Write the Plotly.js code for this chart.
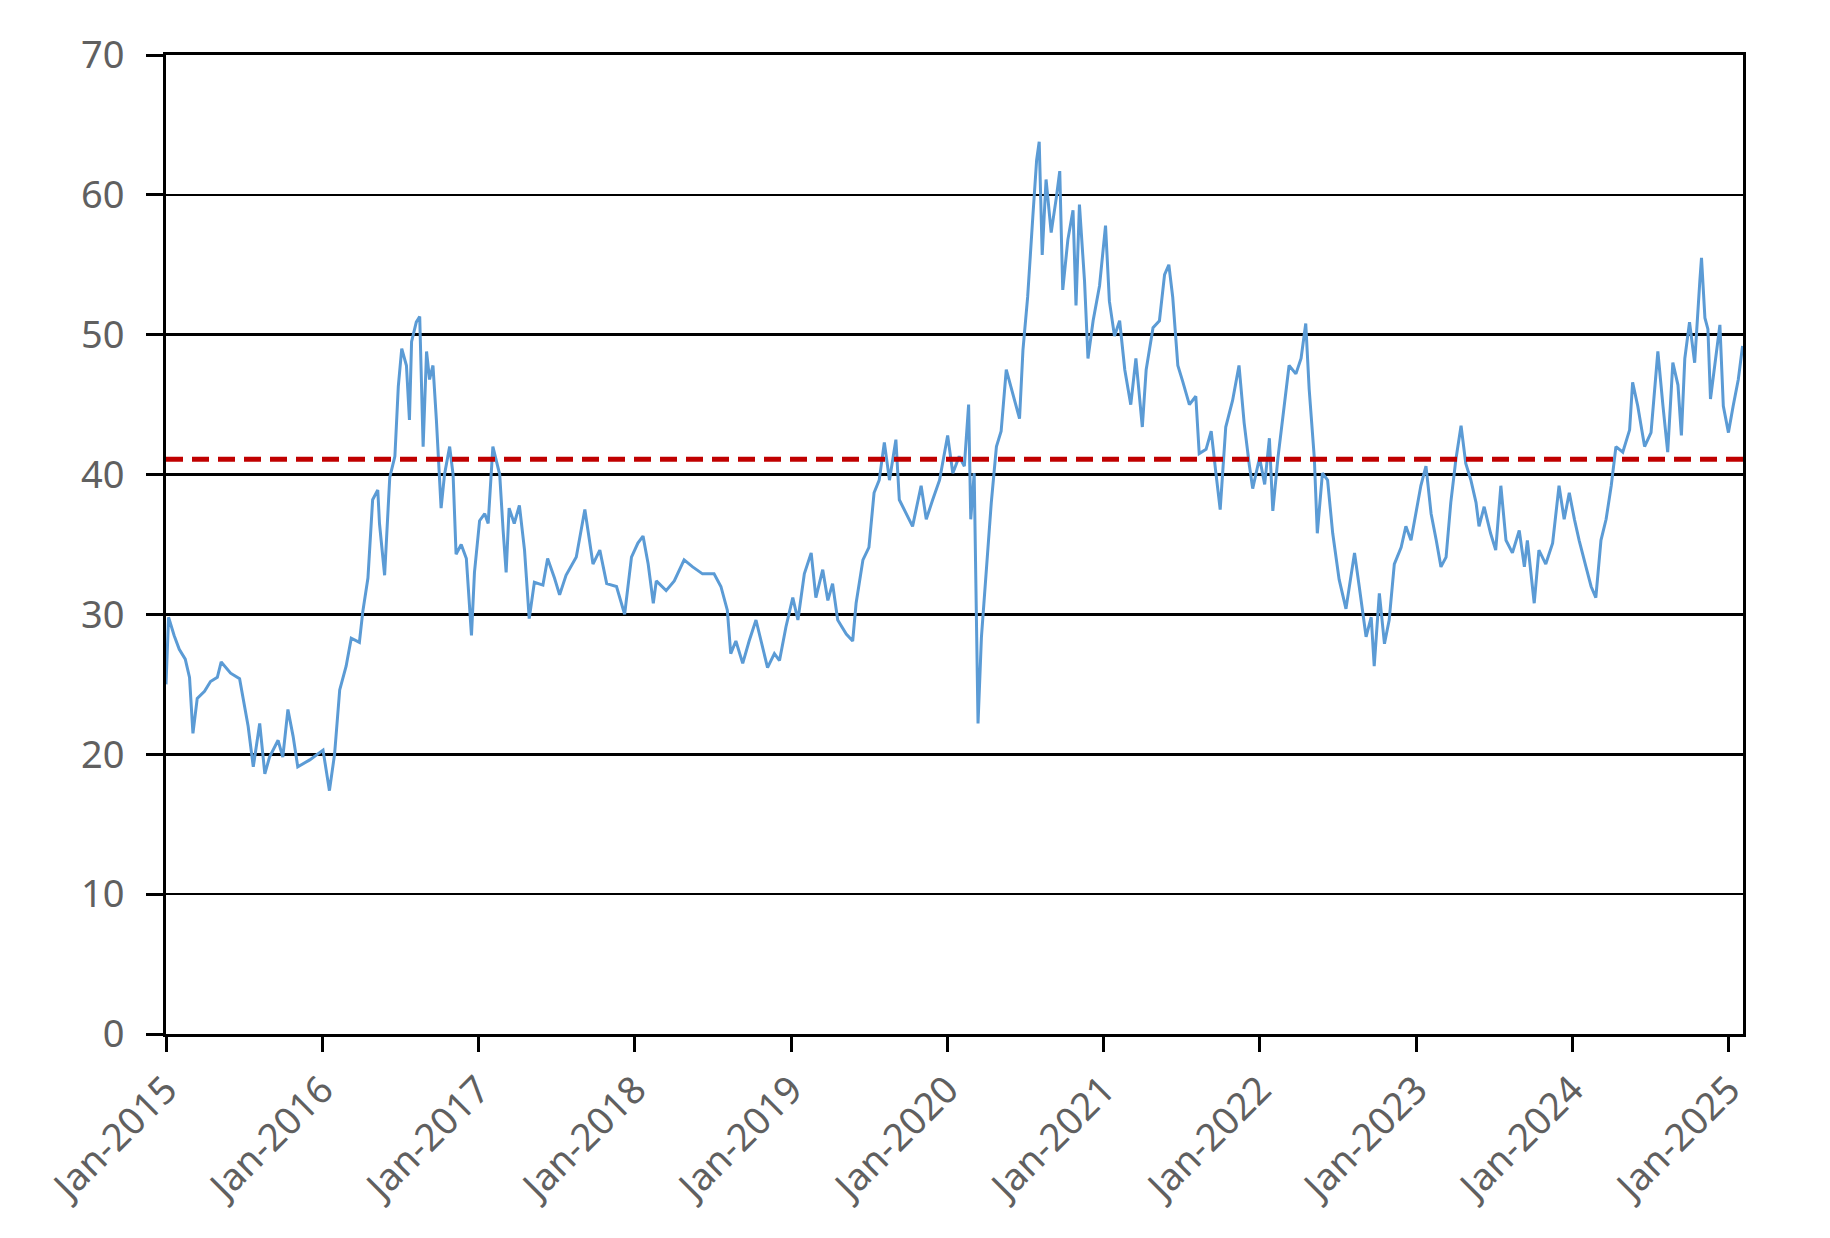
<!DOCTYPE html>
<html>
<head>
<meta charset="utf-8">
<script src="https://cdn.plot.ly/plotly-3.0.1.min.js"></script>
<style>
  html, body { margin: 0; padding: 0; background: #fff; }
  #chart { width: 1830px; height: 1238px; }
</style>
</head>
<body>
<div id="chart"></div>
<script>
// values (roughly two points a month, plus the spikes)
const dates = [
  '2015-01-01','2015-01-07','2015-01-20','2015-02-01','2015-02-15','2015-02-25','2015-03-05','2015-03-15',
  '2015-04-01','2015-04-15','2015-05-01','2015-05-10','2015-06-01','2015-06-22','2015-07-12','2015-07-24',
  '2015-08-08','2015-08-20','2015-08-31','2015-09-20','2015-10-01','2015-10-13','2015-10-25','2015-11-05',
  '2015-12-03','2016-01-03','2016-01-18','2016-01-30','2016-02-11','2016-02-26','2016-03-09','2016-03-28',
  '2016-04-05','2016-04-17','2016-04-28','2016-05-10','2016-05-14','2016-05-26','2016-06-07','2016-06-19',
  '2016-06-27','2016-07-05','2016-07-16','2016-07-23','2016-07-28','2016-08-08','2016-08-16','2016-08-24',
  '2016-09-01','2016-09-08','2016-09-16','2016-09-24','2016-10-05','2016-10-13','2016-10-25','2016-11-02',
  '2016-11-09','2016-11-21','2016-12-03','2016-12-15','2016-12-22','2017-01-03','2017-01-15','2017-01-23',
  '2017-02-03','2017-02-11','2017-02-19','2017-02-27','2017-03-06','2017-03-13','2017-03-25','2017-04-06',
  '2017-04-18','2017-04-29','2017-05-11','2017-05-31','2017-06-11','2017-06-27','2017-07-09','2017-07-24',
  '2017-08-17','2017-09-06','2017-09-14','2017-09-25','2017-10-11','2017-10-27','2017-11-19','2017-12-08',
  '2017-12-24','2018-01-08','2018-01-20','2018-02-01','2018-02-13','2018-02-20','2018-03-15','2018-04-03',
  '2018-04-26','2018-05-16','2018-06-08','2018-07-05','2018-07-21','2018-08-05','2018-08-13','2018-08-25',
  '2018-09-10','2018-09-25','2018-10-11','2018-10-27','2018-11-07','2018-11-23','2018-12-05','2018-12-20',
  '2019-01-05','2019-01-17','2019-02-01','2019-02-17','2019-02-28','2019-03-16','2019-03-28','2019-04-08',
  '2019-04-20','2019-05-10','2019-05-25','2019-06-02','2019-06-18','2019-07-02','2019-07-14','2019-07-26',
  '2019-08-07','2019-08-19','2019-09-03','2019-09-11','2019-09-27','2019-10-12','2019-11-01','2019-11-13',
  '2019-11-28','2019-12-14','2020-01-02','2020-01-14','2020-01-29','2020-02-10','2020-02-20','2020-02-25',
  '2020-03-04','2020-03-13','2020-03-21','2020-04-01','2020-04-13','2020-04-25','2020-05-06','2020-05-18',
  '2020-06-03','2020-06-18','2020-06-26','2020-07-07','2020-07-19','2020-07-28','2020-08-03','2020-08-10',
  '2020-08-19','2020-08-31','2020-09-12','2020-09-20','2020-09-27','2020-10-09','2020-10-21','2020-10-28',
  '2020-11-05','2020-11-17','2020-11-25','2020-12-07','2020-12-22','2021-01-05','2021-01-14','2021-01-26',
  '2021-02-07','2021-02-19','2021-03-05','2021-03-17','2021-04-01','2021-04-10','2021-04-26','2021-05-11',
  '2021-05-23','2021-06-02','2021-06-11','2021-06-23','2021-07-04','2021-07-20','2021-08-04','2021-08-12',
  '2021-08-28','2021-09-09','2021-09-20','2021-09-30','2021-10-13','2021-10-29','2021-11-13','2021-11-25',
  '2021-12-07','2021-12-15','2021-12-31','2022-01-12','2022-01-23','2022-01-31','2022-02-12','2022-02-27',
  '2022-03-10','2022-03-26','2022-04-07','2022-04-18','2022-04-26','2022-05-08','2022-05-15','2022-05-27',
  '2022-06-08','2022-06-20','2022-07-05','2022-07-21','2022-08-10','2022-08-21','2022-09-06','2022-09-18',
  '2022-09-25','2022-10-07','2022-10-19','2022-10-30','2022-11-11','2022-11-27','2022-12-08','2022-12-20',
  '2023-01-01','2023-01-12','2023-01-24','2023-02-05','2023-02-17','2023-02-28','2023-03-12','2023-03-23',
  '2023-04-04','2023-04-16','2023-04-27','2023-05-09','2023-05-21','2023-05-28','2023-06-09','2023-06-24',
  '2023-07-06','2023-07-18','2023-07-30','2023-08-14','2023-08-30','2023-09-11','2023-09-18','2023-10-04',
  '2023-10-15','2023-10-31','2023-11-16','2023-12-01','2023-12-13','2023-12-25','2024-01-06','2024-01-17',
  '2024-02-02','2024-02-14','2024-02-25','2024-03-08','2024-03-20','2024-04-01','2024-04-12','2024-04-28',
  '2024-05-14','2024-05-21','2024-06-02','2024-06-18','2024-07-03','2024-07-19','2024-07-31','2024-08-11',
  '2024-08-23','2024-09-04','2024-09-12','2024-09-20','2024-10-01','2024-10-13','2024-10-25','2024-10-29',
  '2024-11-06','2024-11-13','2024-11-19','2024-11-29','2024-12-11','2024-12-19','2024-12-31','2025-01-11',
  '2025-01-23','2025-02-02'
];

const values = [
  25.0, 29.8, 28.5, 27.5, 26.8, 25.5, 21.5, 24.0,
  24.5, 25.2, 25.5, 26.6, 25.8, 25.4, 22.0, 19.1,
  22.2, 18.6, 19.8, 21.0, 19.8, 23.2, 21.3, 19.1,
  19.6, 20.3, 17.4, 20.0, 24.6, 26.3, 28.3, 28.0,
  30.2, 32.6, 38.2, 38.9, 36.5, 32.8, 39.8, 41.3,
  46.3, 49.0, 47.8, 43.9, 49.5, 50.9, 51.3, 42.0,
  48.8, 46.8, 47.8, 43.9, 37.6, 40.0, 42.0, 40.0,
  34.3, 35.0, 34.0, 28.5, 33.0, 36.7, 37.2, 36.5,
  42.0, 41.0, 40.0, 36.0, 33.0, 37.6, 36.5, 37.8,
  34.6, 29.7, 32.3, 32.1, 34.0, 32.6, 31.4, 32.8,
  34.1, 37.5, 35.8, 33.6, 34.6, 32.2, 32.0, 30.0,
  34.1, 35.1, 35.6, 33.6, 30.8, 32.4, 31.7, 32.4,
  33.9, 33.4, 32.9, 32.9, 32.0, 30.3, 27.2, 28.1,
  26.5, 28.1, 29.6, 27.7, 26.2, 27.2, 26.7, 29.1,
  31.2, 29.6, 32.9, 34.4, 31.2, 33.2, 31.0, 32.2,
  29.6, 28.6, 28.1, 30.8, 33.9, 34.8, 38.7, 39.6,
  42.3, 39.6, 42.5, 38.2, 37.2, 36.3, 39.2, 36.8,
  38.2, 39.6, 42.8, 40.1, 41.3, 40.6, 45.0, 36.8,
  40.1, 22.2, 28.4, 33.3, 38.0, 42.0, 43.1, 47.5,
  45.6, 44.0, 48.9, 52.7, 58.4, 62.5, 63.8, 55.7,
  61.1, 57.3, 59.8, 61.7, 53.2, 56.8, 58.9, 52.1,
  59.3, 53.8, 48.3, 51.0, 53.5, 57.8, 52.4, 49.9,
  51.0, 47.5, 45.0, 48.3, 43.4, 47.5, 50.5, 51.0,
  54.3, 55.0, 52.7, 47.8, 46.7, 45.0, 45.6, 41.5,
  41.8, 43.1, 40.1, 37.5, 43.4, 45.3, 47.8, 43.7,
  40.7, 39.0, 41.2, 39.3, 42.6, 37.4, 41.2, 45.0,
  47.8, 47.2, 48.3, 50.8, 46.1, 41.2, 35.8, 40.1,
  39.6, 35.8, 32.5, 30.4, 34.4, 32.0, 28.4, 29.8,
  26.3, 31.5, 27.9, 29.6, 33.6, 34.8, 36.3, 35.3,
  37.2, 39.2, 40.6, 37.2, 35.3, 33.4, 34.1, 38.0,
  41.1, 43.5, 40.8, 39.6, 38.0, 36.3, 37.7, 35.8,
  34.6, 39.2, 35.3, 34.4, 36.0, 33.4, 35.3, 30.8,
  34.6, 33.6, 35.1, 39.2, 36.8, 38.7, 36.8, 35.3,
  33.4, 32.0, 31.2, 35.3, 36.8, 39.2, 42.0, 41.6,
  43.2, 46.6, 44.9, 42.0, 43.0, 48.8, 44.9, 41.6,
  48.0, 46.4, 42.8, 48.3, 50.9, 48.0, 53.8, 55.5,
  51.2, 50.4, 45.4, 47.8, 50.7, 44.9, 43.0, 44.9,
  46.8, 49.2
];

// long-run average (red dashed line)
const averageLevel = 41.1;
const xRange = ['2015-01-01', '2025-02-03'];
const yRange = [0, 70];

const labelFont = { family: 'Noto Sans, sans-serif', size: 38, color: '#606060' };

var series = {
  x: dates,
  y: values,
  type: 'scatter',
  mode: 'lines',
  line: { color: '#5b9bd5', width: 3 },
  hoverinfo: 'x+y'
};

var average = {
  x: xRange,
  y: [averageLevel, averageLevel],
  type: 'scatter',
  mode: 'lines',
  line: { color: '#c00000', width: 5, dash: '17px,9px' },
  hoverinfo: 'y'
};

var layout = {
  width: 1830,
  height: 1238,
  margin: { l: 166, r: 87, t: 55, b: 204 },
  paper_bgcolor: '#ffffff',
  plot_bgcolor: '#ffffff',
  showlegend: false,
  font: labelFont,
  xaxis: {
    type: 'date',
    range: xRange,
    tick0: '2015-01-01',
    dtick: 'M12',
    tickformat: '%b-%Y',
    tickangle: -45,
    tickfont: labelFont,
    ticks: 'outside',
    ticklen: 15,
    tickwidth: 3,
    tickcolor: '#000',
    showgrid: false,
    showline: true,
    linecolor: '#000',
    linewidth: 3,
    mirror: true,
    zeroline: false
  },
  yaxis: {
    range: yRange,
    dtick: 10,
    tickfont: labelFont,
    ticks: 'outside',
    ticklen: 17,
    tickwidth: 3,
    tickcolor: '#000',
    ticklabelstandoff: 14,
    showgrid: true,
    gridcolor: '#000',
    gridwidth: 2.5,
    showline: true,
    linecolor: '#000',
    linewidth: 3,
    mirror: true,
    zeroline: false
  }
};

Plotly.newPlot('chart', [series, average], layout, { displayModeBar: false, staticPlot: true });
</script>
</body>
</html>
